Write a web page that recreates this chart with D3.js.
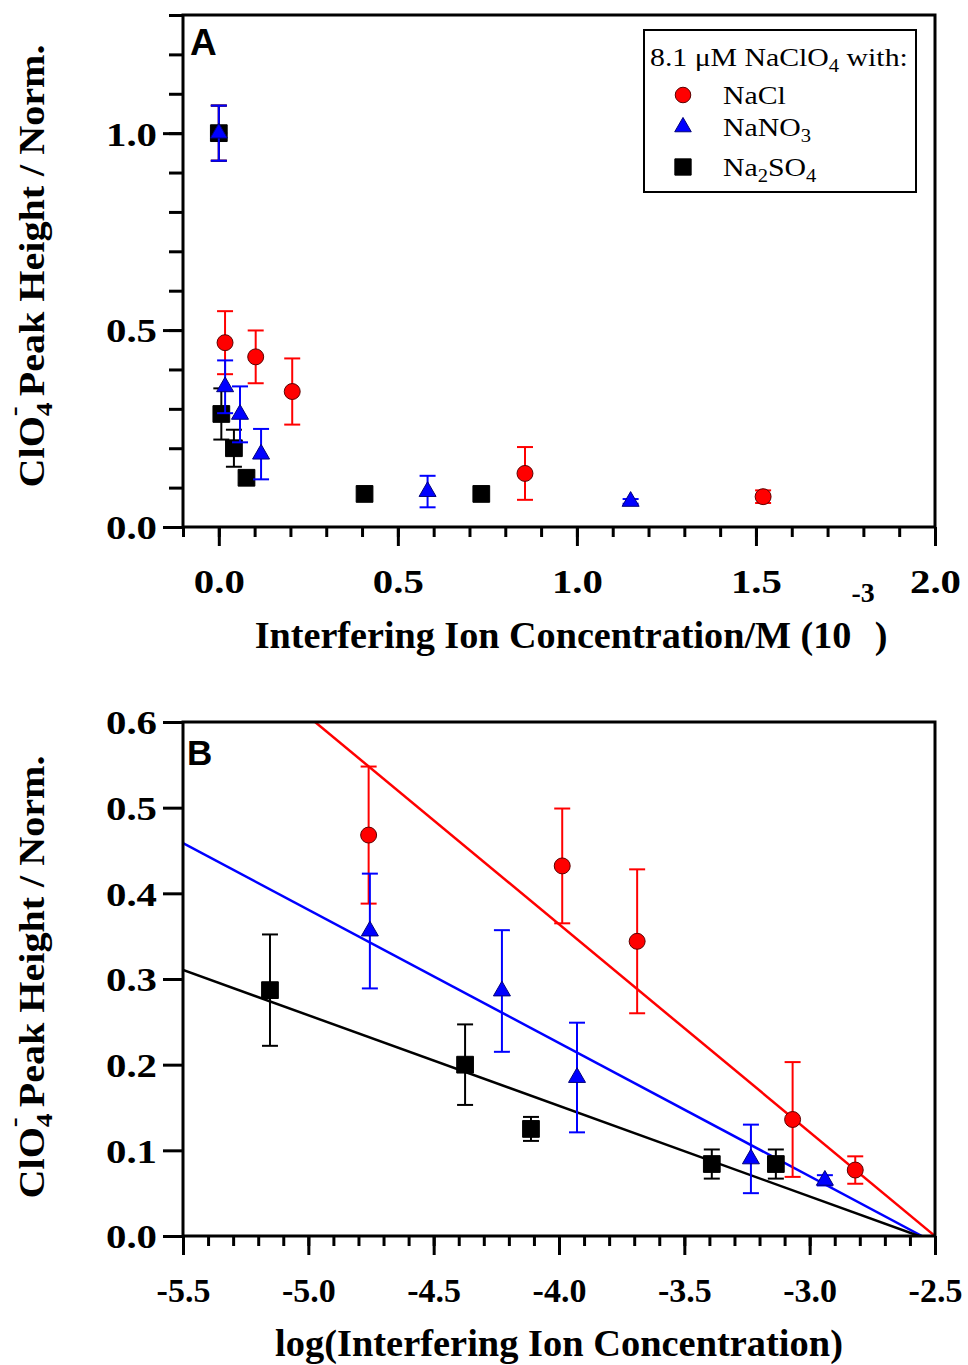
<!DOCTYPE html>
<html><head><meta charset="utf-8">
<script src="https://cdn.jsdelivr.net/npm/d3@7"></script>
<style>
  body { margin: 0; background: #fff; }
  text { fill: #000; }
</style>
</head><body>
<svg id="chart" width="968" height="1365"></svg>
<script>
// Interfering-ion concentration (10^-3 M), normalized ClO4- peak height and its error
const naclConc   = [0, 0.0174, 0.103, 0.205, 0.855, 1.52];
const naclPeak   = [1.0, 0.468, 0.432, 0.344, 0.136, 0.077];
const naclErr    = [0.07, 0.080, 0.067, 0.084, 0.067, 0.016];

const nano3Conc  = [0, 0.0176, 0.0592, 0.118, 0.583, 1.15];
const nano3Peak  = [1.0, 0.356, 0.286, 0.185, 0.090, 0.065];
const nano3Err   = [0.07, 0.067, 0.071, 0.064, 0.040, 0.006];

const na2so4Conc = [0, 0.00703, 0.0422, 0.0773, 0.407, 0.733];
const na2so4Peak = [1.0, 0.287, 0.200, 0.125, 0.084, 0.084];
const na2so4Err  = [0.07, 0.065, 0.047, 0.014, 0.017, 0.017];

// Linear fits: peak height = intercept + slope * log10(concentration / M)
const fitSlope     = [-0.2426, -0.1556, -0.1058];
const fitIntercept = [-0.6065, -0.3971, -0.2713];

const seriesNames = ["NaCl", "NaNO3", "Na2SO4"];

// Axis ticks
const aXMajor = [0.0, 0.5, 1.0, 1.5, 2.0];
const aYMajor = [0.0, 0.5, 1.0];
const bXMajor = [-5.5, -5.0, -4.5, -4.0, -3.5, -3.0, -2.5];
const bYMajor = [0.0, 0.1, 0.2, 0.3, 0.4, 0.5, 0.6];

// ---------------------------------------------------------------
const svg = d3.select("#chart");
const SERIF = "'Liberation Serif', 'Times New Roman', serif";
const SANS = "'Liberation Sans', Arial, sans-serif";

const styles = {
  NaCl:   { color: "#ff0000", edge: "#5a0000", shape: d3.symbolCircle,   size: 200 },
  NaNO3:  { color: "#0000ff", edge: "#00007a", shape: d3.symbolTriangle, size: 125 },
  Na2SO4: { color: "#000000", edge: "#000000", shape: d3.symbolSquare,   size: 280 }
};

const series = [
  { name: "NaCl",   conc: naclConc,   peak: naclPeak,   err: naclErr,   fit: 0 },
  { name: "NaNO3",  conc: nano3Conc,  peak: nano3Peak,  err: nano3Err,  fit: 1 },
  { name: "Na2SO4", conc: na2so4Conc, peak: na2so4Peak, err: na2so4Err, fit: 2 }
];
// drawing order: red, black, then blue on top
const drawOrder = [series[0], series[2], series[1]];

const L = 183, R = 935;
const panelA = { top: 15, bottom: 527 };
const panelB = { top: 722, bottom: 1236 };

const xA = d3.scaleLinear().domain([-0.1, 2.0]).range([L, R]);
const yA = d3.scaleLinear().domain([0, 1.3]).range([panelA.bottom, panelA.top]);
const xB = d3.scaleLinear().domain([-5.5, -2.5]).range([L, R]);
const yB = d3.scaleLinear().domain([0, 0.6]).range([panelB.bottom, panelB.top]);

const fmt1 = d => d.toFixed(1);

function styleTicks(g, width) {
  g.select(".domain").remove();
  g.selectAll(".tick line").attr("stroke", "#000").attr("stroke-width", width);
}

function drawAxes(x, y, top, bottom, xMajor, xMinorStep, yMajor, yMinorStep, xLabelY, xStretch, yStretch) {
  const xDom = x.domain(), yDom = y.domain();
  const xMinor = d3.range(Math.round(xDom[0] / xMinorStep), Math.round(xDom[1] / xMinorStep) + 1)
    .map(i => +(i * xMinorStep).toFixed(3));

  // bottom minor + major ticks
  svg.append("g").attr("transform", `translate(0,${bottom})`)
    .call(d3.axisBottom(x).tickValues(xMinor).tickSize(10).tickFormat(""))
    .call(g => styleTicks(g, 3));
  const gx = svg.append("g").attr("transform", `translate(0,${bottom})`)
    .call(d3.axisBottom(x).tickValues(xMajor).tickSize(19).tickFormat(fmt1))
    .call(g => styleTicks(g, 3));
  gx.selectAll(".tick text")
    .attr("y", xLabelY).attr("dy", 0)
    .attr("transform", `scale(${xStretch},1)`)
    .attr("font-family", SERIF).attr("font-weight", "bold").attr("font-size", 34)
    .attr("fill", "#000");

  // left minor + major ticks
  if (yMinorStep) {
    const yMinor = d3.range(Math.round(yDom[0] / yMinorStep), Math.round(yDom[1] / yMinorStep) + 1)
      .map(i => +(i * yMinorStep).toFixed(3));
    svg.append("g").attr("transform", `translate(${L},0)`)
      .call(d3.axisLeft(y).tickValues(yMinor).tickSize(14).tickFormat(""))
      .call(g => styleTicks(g, 3));
  }
  const gy = svg.append("g").attr("transform", `translate(${L},0)`)
    .call(d3.axisLeft(y).tickValues(yMajor).tickSize(20).tickFormat(fmt1))
    .call(g => styleTicks(g, 3));
  gy.selectAll(".tick text")
    .attr("x", -26 / yStretch).attr("dy", "0.35em")
    .attr("transform", `scale(${yStretch},1)`)
    .attr("font-family", SERIF).attr("font-weight", "bold").attr("font-size", 34)
    .attr("fill", "#000");

  // frame
  svg.append("rect")
    .attr("x", L).attr("y", top).attr("width", R - L).attr("height", bottom - top)
    .attr("fill", "none").attr("stroke", "#000").attr("stroke-width", 3);
}

function drawPoints(x, y, pts, st) {
  const g = svg.append("g");
  const bars = g.selectAll("g.bar").data(pts).join("g").attr("class", "bar")
    .attr("stroke", st.color).attr("stroke-width", 2);
  bars.append("line")
    .attr("x1", d => x(d.x)).attr("x2", d => x(d.x))
    .attr("y1", d => y(d.v - d.e)).attr("y2", d => y(d.v + d.e));
  bars.append("line")
    .attr("x1", d => x(d.x) - 8).attr("x2", d => x(d.x) + 8)
    .attr("y1", d => y(d.v + d.e)).attr("y2", d => y(d.v + d.e));
  bars.append("line")
    .attr("x1", d => x(d.x) - 8).attr("x2", d => x(d.x) + 8)
    .attr("y1", d => y(d.v - d.e)).attr("y2", d => y(d.v - d.e));
  g.selectAll("path.mark").data(pts).join("path").attr("class", "mark")
    .attr("d", d3.symbol().type(st.shape).size(st.size))
    .attr("transform", d => `translate(${x(d.x)},${y(d.v)})`)
    .attr("fill", st.color).attr("stroke", st.edge).attr("stroke-width", 1);
}

function fitText(sel, target) {
  const w = sel.node().getBBox().width;
  return target / w;
}

// Vertical axis title: ClO4- Peak Height / Norm.
function yTitle(cy) {
  const t = svg.append("text")
    .attr("font-family", SERIF).attr("font-weight", "bold").attr("font-size", 35)
    .attr("text-anchor", "middle");
  t.append("tspan").text("ClO");
  t.append("tspan").attr("font-size", 24).attr("dy", 8).text("4");
  t.append("tspan").attr("font-size", 26).attr("dx", -12).attr("dy", -30).text("-");
  t.append("tspan").attr("dy", 22).text(" Peak Height / Norm.");
  const s = fitText(t, 443);
  t.attr("transform", `translate(44,${cy}) rotate(-90) scale(${s},1)`);
}

// ---------------- Panel A ----------------
drawAxes(xA, yA, panelA.top, panelA.bottom, aXMajor, 0.1, aYMajor, 0.1, 66, 1.2, 1.2);

drawOrder.forEach(s => {
  const pts = s.conc.map((c, i) => ({ x: c, v: s.peak[i], e: s.err[i] }));
  drawPoints(xA, yA, pts, styles[s.name]);
});

svg.append("text").attr("x", 190).attr("y", 55)
  .attr("font-family", SANS).attr("font-weight", "bold").attr("font-size", 37).text("A");

// x title A
{
  const t = svg.append("text")
    .attr("font-family", SERIF).attr("font-weight", "bold").attr("font-size", 37)
    .attr("text-anchor", "middle");
  t.append("tspan").text("Interfering Ion Concentration/M (10");
  t.append("tspan").attr("font-size", 27).attr("dy", -46).text("-3");
  t.append("tspan").attr("dy", 46).text(")");
  const s = fitText(t, 633);
  t.attr("transform", `translate(571,648) scale(${s},1)`);
}
yTitle(266);

// legend
{
  const lg = svg.append("g");
  lg.append("rect").attr("x", 644).attr("y", 30).attr("width", 272).attr("height", 162)
    .attr("fill", "#fff").attr("stroke", "#000").attr("stroke-width", 2);
  const title = lg.append("text").attr("font-family", SERIF).attr("font-size", 26);
  title.append("tspan").text("8.1 \u03bcM NaClO");
  title.append("tspan").attr("font-size", 18).attr("dy", 6).text("4");
  title.append("tspan").attr("dy", -6).text(" with:");
  const st = fitText(title, 258);
  title.attr("transform", `translate(650,66) scale(${st},1)`);

  const rows = [
    { name: "NaCl", cy: 95, parts: [["NaCl", 0]] },
    { name: "NaNO3", cy: 127, parts: [["NaNO", 0], ["3", 6], ["", -6]] },
    { name: "Na2SO4", cy: 167, parts: [["Na", 0], ["2", 6], ["SO", -6], ["4", 6]] }
  ];
  rows.forEach(r => {
    const sty = styles[r.name];
    lg.append("path")
      .attr("d", d3.symbol().type(sty.shape).size(sty.size * 0.95))
      .attr("transform", `translate(683,${r.cy})`)
      .attr("fill", sty.color).attr("stroke", sty.edge).attr("stroke-width", 1);
    const t = lg.append("text").attr("font-family", SERIF).attr("font-size", 26)
      .attr("transform", `translate(723,${r.cy + 9}) scale(${st},1)`);
    r.parts.forEach(([txt, dy]) => {
      const sp = t.append("tspan").attr("dy", dy).text(txt);
      if (/^\d$/.test(txt)) sp.attr("font-size", 18);
    });
  });
}

// ---------------- Panel B ----------------
svg.append("defs").append("clipPath").attr("id", "clipB")
  .append("rect").attr("x", L).attr("y", panelB.top).attr("width", R - L)
  .attr("height", panelB.bottom - panelB.top);

// fit lines
const fitG = svg.append("g").attr("clip-path", "url(#clipB)");
series.forEach(s => {
  const a = fitIntercept[s.fit], b = fitSlope[s.fit];
  const xEnd = -a / b;
  const line = d3.line().x(d => xB(d)).y(d => yB(a + b * d));
  fitG.append("path").datum([-5.5, xEnd])
    .attr("d", line).attr("fill", "none")
    .attr("stroke", styles[s.name].color).attr("stroke-width", 2.5);
});

drawOrder.forEach(s => {
  const pts = s.conc.map((c, i) => ({ c, x: Math.log10(c * 1e-3), v: s.peak[i], e: s.err[i] }))
    .filter(d => d.c > 0);
  drawPoints(xB, yB, pts, styles[s.name]);
});

drawAxes(xB, yB, panelB.top, panelB.bottom, bXMajor, 0.1, bYMajor, null, 66, 1.0, 1.2);

svg.append("text").attr("x", 187).attr("y", 765)
  .attr("font-family", SANS).attr("font-weight", "bold").attr("font-size", 35).text("B");

{
  const t = svg.append("text")
    .attr("font-family", SERIF).attr("font-weight", "bold").attr("font-size", 37)
    .attr("text-anchor", "middle")
    .text("log(Interfering Ion Concentration)");
  const s = fitText(t, 568);
  t.attr("transform", `translate(559,1356) scale(${s},1)`);
}
yTitle(977);
</script>
</body></html>
